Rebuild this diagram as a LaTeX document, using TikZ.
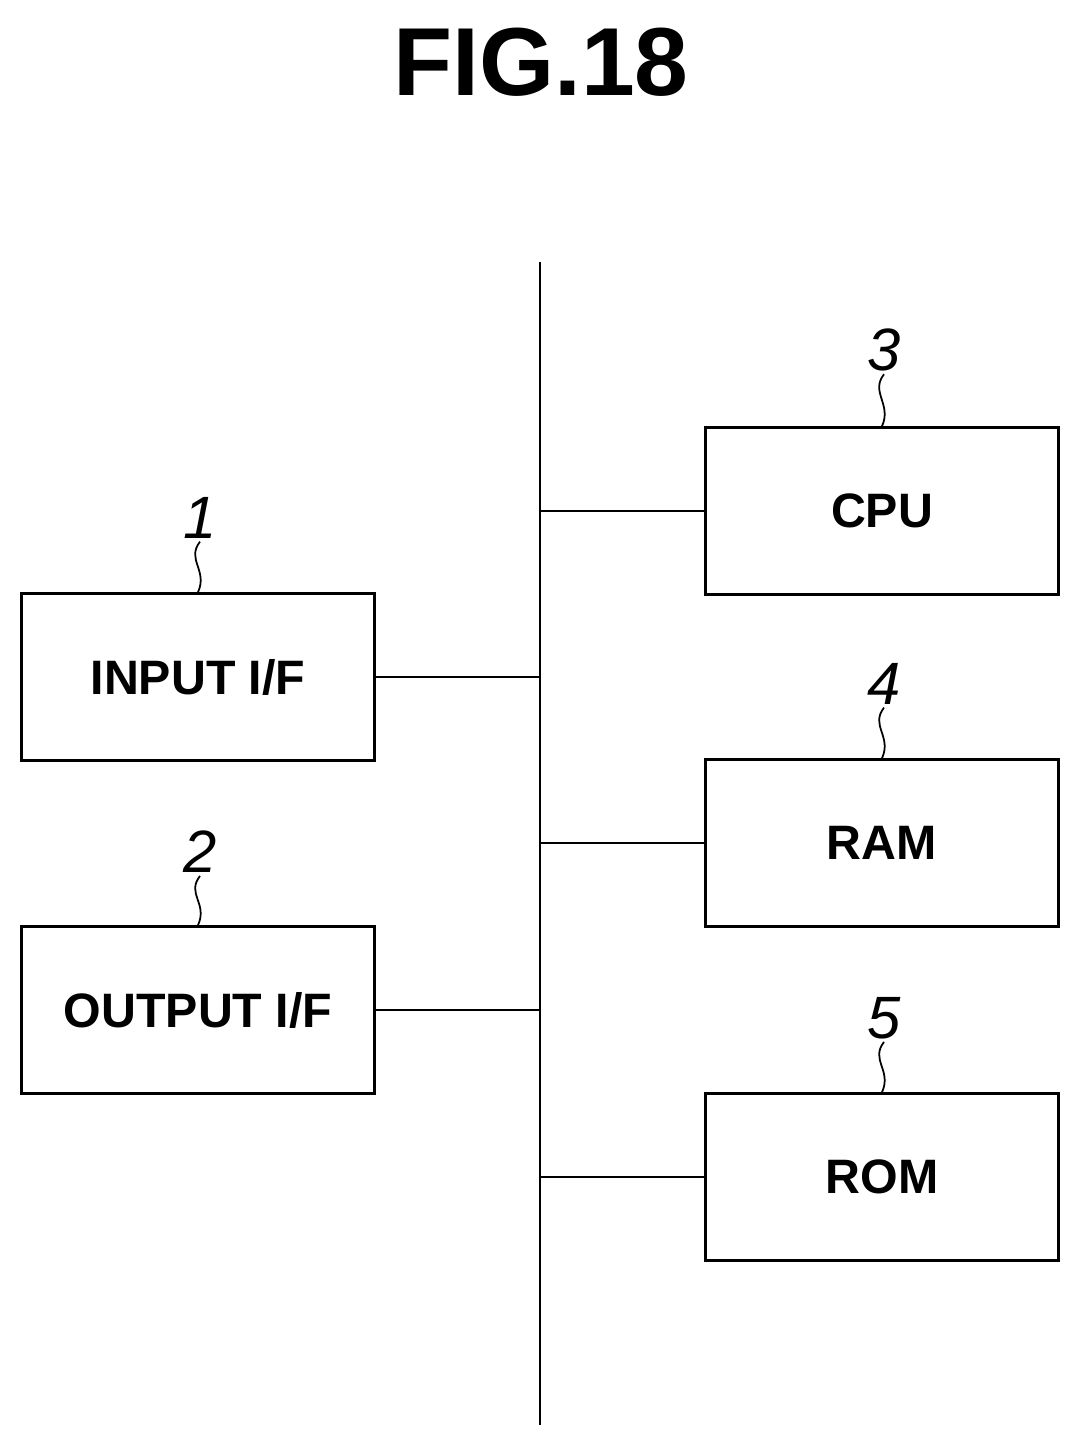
\documentclass[tikz,border=0pt]{standalone}
\usepackage{fontspec}
\setmainfont{Liberation Sans}
\usepackage{tikz}
\begin{document}
\begin{tikzpicture}[x=0.02cm, y=-0.02cm, line width=1.5pt]
    \tikzstyle{unit} = [rectangle, draw, minimum width=7.06cm, minimum height=3.34cm, font=\fontsize{27.5}{32}\selectfont\bfseries, inner sep=0pt]
    \tikzstyle{refnum} = [font=\fontsize{34}{36}\selectfont\itshape, inner sep=1pt]
    \useasboundingbox (0,0) rectangle (1080,1447);

    % Title
    \node [font=\fontsize{55}{60}\selectfont\bfseries] (title) at (541,62) {FIG.18};

    % Bus
    \coordinate (bustop) at (540,262);
    \coordinate (busbot) at (540,1425);
    \draw (bustop) -- (busbot);

    % Units
    \node [unit] (cpu) at (882,511) {CPU};
    \node [unit] (ram) at (882,843) {RAM};
    \node [unit] (rom) at (882,1177) {ROM};
    \node [unit] (in) at (198,677) {INPUT I/F};
    \node [unit] (out) at (198,1010) {OUTPUT I/F};

    % Bus taps
    \foreach \u in {cpu, ram, rom} {
        \draw (\u.west) -- (\u.west -| bustop);
    }
    \foreach \u in {in, out} {
        \draw (\u.east) -- (\u.east -| bustop);
    }

    % Reference numerals
    \node [refnum] (n3) at (884,350) {3};
    \node [refnum] (n4) at (884,684) {4};
    \node [refnum] (n5) at (884,1018) {5};
    \node [refnum] (n1) at (200,518) {1};
    \node [refnum] (n2) at (200,852) {2};
    \draw [line width=1pt] (n3.south) .. controls +(-14,18) and +(10,-22) .. (cpu.north);
    \draw [line width=1pt] (n4.south) .. controls +(-14,18) and +(10,-22) .. (ram.north);
    \draw [line width=1pt] (n5.south) .. controls +(-14,18) and +(10,-22) .. (rom.north);
    \draw [line width=1pt] (n1.south) .. controls +(-14,18) and +(10,-22) .. (in.north);
    \draw [line width=1pt] (n2.south) .. controls +(-14,18) and +(10,-22) .. (out.north);
\end{tikzpicture}
\end{document}
